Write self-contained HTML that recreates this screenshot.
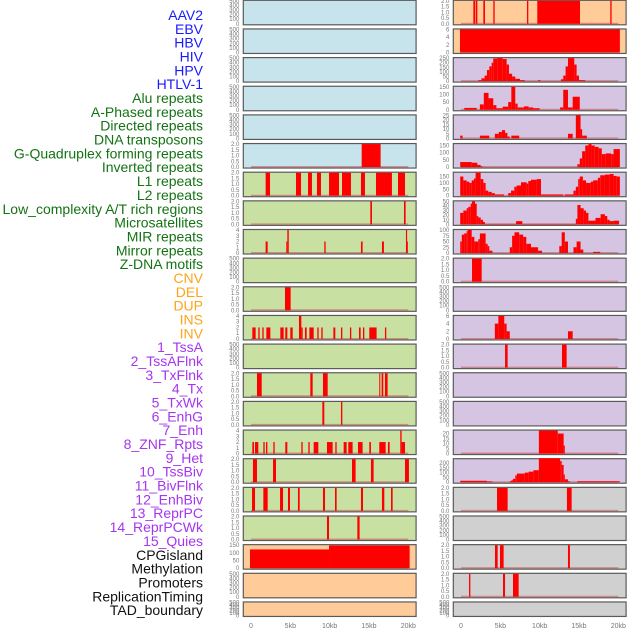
<!DOCTYPE html>
<html><head><meta charset="utf-8"><style>
html,body{margin:0;padding:0;background:#fff;}
svg{display:block;font-family:"Liberation Sans",sans-serif;}
</style></head><body>
<svg id="chart" width="630" height="630" viewBox="0 0 630 630" xmlns="http://www.w3.org/2000/svg"></svg>
<script>
const trackLabels = ["AAV2","EBV","HBV","HIV","HPV","HTLV-1","Alu repeats","A-Phased repeats","Directed repeats","DNA transposons","G-Quadruplex forming repeats","Inverted repeats","L1 repeats","L2 repeats","Low_complexity A/T rich regions","Microsatellites","MIR repeats","Mirror repeats","Z-DNA motifs","CNV","DEL","DUP","INS","INV","1_TssA","2_TssAFlnk","3_TxFlnk","4_Tx","5_TxWk","6_EnhG","7_Enh","8_ZNF_Rpts","9_Het","10_TssBiv","11_BivFlnk","12_EnhBiv","13_ReprPC","14_ReprPCWk","15_Quies","CPGisland","Methylation","Promoters","ReplicationTiming","TAD_boundary"];
const trackGroups = ["v","v","v","v","v","v","r","r","r","r","r","r","r","r","r","r","r","r","r","s","s","s","s","s","c","c","c","c","c","c","c","c","c","c","c","c","c","c","c","o","o","o","o","o"];
const xTickLabels = ["0","5kb","10kb","15kb","20kb"];
const xTickValues = [0,5,10,15,20];
const yMaxes = [500,500,500,500,500,2,2,2,4,500,2,4,500,2,2,4,2,2,2,150,500,500,
                2,6,250,150,25,160,180,50,100,2,500,6,2,500,500,23,240,2,500,2,2,500];
const yTicks = [
 [0,100,200,300,400,500],[0,100,200,300,400,500],[0,100,200,300,400,500],[0,100,200,300,400,500],[0,100,200,300,400,500],
 [0,0.5,1,1.5,2],[0,0.5,1,1.5,2],[0,0.5,1,1.5,2],[0,1,2,3,4],[0,100,200,300,400,500],[0,0.5,1,1.5,2],[0,1,2,3,4],
 [0,100,200,300,400,500],[0,0.5,1,1.5,2],[0,0.5,1,1.5,2],[0,1,2,3,4],[0,0.5,1,1.5,2],[0,0.5,1,1.5,2],[0,0.5,1,1.5,2],
 [0,50,100,150],[0,100,200,300,400,500],[0,100,200,300,400,500],
 [0,0.5,1,1.5,2],[0,2,4,6],[0,50,100,150,200,250],[0,50,100,150],[0,5,10,15,20,25],[0,50,100,150],[0,50,100,150],
 [0,10,20,30,40,50],[0,25,50,75,100],[0,0.5,1,1.5,2],[0,100,200,300,400,500],[0,2,4,6],[0,0.5,1,1.5,2],
 [0,100,200,300,400,500],[0,100,200,300,400,500],[0,5,10,15,20],[0,50,100,150,200],[0,0.5,1,1.5,2],
 [0,100,200,300,400,500],[0,0.5,1,1.5,2],[0,0.5,1,1.5,2],[0,100,200,300,400,500]];
// segments per panel: [startKb, endKb, value]
const segsL6 = [[14.07,16.48,2]];
const segsL7 = [[1.86,2.42,2],[5.72,6.36,2],[7.25,7.75,2],[8.39,8.9,2],[9.92,11.19,2],[11.57,12.71,2],[13.98,14.49,2],[15.89,17.92,2],[18.69,19.58,2]];
const segsL8 = [[15.17,15.38,2],[19.45,19.66,2]];
const segsL9 = [[1.86,2.12,2],[4.49,4.62,2],[4.62,4.8,4],[9.32,9.49,2],[13.98,14.19,2],[16.65,16.9,2],[19.7,19.85,4],[19.85,19.95,2]];
const segsL11 = [[4.32,5.04,2]];
const segsL12 = [[0.17,0.59,2],[0.93,1.1,2],[1.44,1.61,2],[1.95,2.46,2],[3.73,4.15,2],[4.36,4.62,2],[5.0,5.3,2],[6.1,6.4,4],[6.4,6.57,2],[6.86,7.08,2],[7.42,7.97,2],[8.43,8.6,2],[8.94,9.11,2],[10.47,10.72,2],[11.44,11.61,2],[12.58,12.75,2],[13.73,13.94,2],[14.24,14.41,2],[15.04,15.97,2],[17.03,17.2,2]];
const segsL14 = [[0.76,1.36,2],[7.54,7.84,2],[9.15,9.75,2],[16.31,16.44,2],[16.61,16.82,2],[17.03,17.37,2]];
const segsL15 = [[9.07,9.32,2],[11.44,11.61,2]];
const segsL16 = [[0.17,0.38,2],[0.51,0.93,2],[1.57,1.74,2],[1.91,2.08,2],[2.84,3.01,2],[4.36,4.62,2],[6.4,6.57,2],[7.29,7.46,2],[7.97,8.56,2],[9.66,10.38,2],[10.72,10.89,2],[11.78,12.16,2],[12.37,12.92,2],[13.6,14.19,2],[15.04,15.25,2],[16.31,17.12,2],[17.41,17.63,2],[18.98,19.15,4],[19.15,19.58,2]];
const segsL17 = [[0.25,0.76,2],[2.8,3.18,2],[12.84,13.3,2],[15.25,15.59,2],[19.58,20.08,2]];
const segsL18 = [[0.13,0.51,2],[1.57,2.12,2],[3.69,4.07,2],[4.7,4.96,2],[5.97,6.19,2],[9.15,9.41,2],[10.68,10.89,2],[13.98,14.24,2],[16.65,16.95,2],[17.8,18.01,2]];
const segsL19 = [[9.66,9.92,2],[13.52,13.81,2]];
const segsL20 = [[-0.13,9.92,122],[9.92,20.17,148]];
const segsR1 = [[1.57,1.78,2],[1.86,2.08,2],[2.84,3.05,2],[4.11,4.28,2],[8.39,8.56,2],[9.7,15.13,2],[18.98,19.15,2]];
const segsR2 = [[-0.13,20.2,6]];
const segsR3 = [[2.2,2.6,10],[2.6,3.0,30],[3.0,3.3,60],[3.3,3.6,120],[3.6,3.9,160],[3.9,4.1,200],[4.1,4.6,245],[4.6,5.3,250],[5.3,5.8,240],[5.8,6.1,180],[6.1,6.5,80],[6.5,6.9,50],[6.9,7.5,25],[7.5,8.1,10],[9.8,10.1,10],[12.7,13.0,20],[13.0,13.3,60],[13.3,13.6,160],[13.6,14.4,250],[14.4,14.7,180],[14.7,15.0,60],[15.0,15.8,10]];
const segsR4 = [[0.42,2.0,12],[2.4,2.9,35],[2.9,3.5,110],[3.5,4.1,75],[4.1,4.5,30],[4.5,5.3,10],[5.3,6.0,20],[6.0,6.4,50],[6.4,6.9,150],[6.9,7.2,40],[7.2,8.0,15],[8.0,8.6,22],[8.6,9.2,15],[9.2,10.0,10],[12.6,13.0,15],[13.0,13.6,130],[13.6,14.2,15],[14.2,15.1,85]];
const segsR5 = [[-0.1,0.2,3],[2.4,3.6,3],[4.3,4.8,5],[4.8,5.2,7],[5.2,5.6,9],[5.6,5.9,6],[5.9,6.2,2],[6.4,7.4,3],[13.6,14.2,5],[14.6,15.2,25],[15.2,15.4,10],[15.4,16.0,3]];
const segsR6 = [[-0.1,1.36,35],[1.36,2.08,30],[2.08,2.5,15],[2.5,2.75,5],[14.8,15.1,20],[15.1,15.4,60],[15.4,15.8,110],[15.8,16.2,150],[16.2,16.6,160],[16.6,17.0,150],[17.0,17.5,140],[17.5,17.9,130],[17.9,18.4,90],[18.4,19.1,95],[19.1,19.4,90],[19.4,20.2,125]];
const segsR7 = [[-0.1,0.3,150],[0.3,0.72,120],[0.72,1.06,110],[1.06,1.36,100],[1.36,1.65,120],[1.65,1.86,135],[1.86,2.5,180],[2.5,2.84,130],[2.84,3.13,100],[3.13,3.47,40],[3.47,3.9,30],[3.9,4.3,20],[4.3,5.47,10],[6.0,6.36,20],[6.36,6.78,40],[6.78,7.08,70],[7.08,7.63,80],[7.63,8.35,105],[8.35,8.56,95],[8.56,8.9,115],[8.9,9.62,125],[9.62,10.17,130],[10.17,13.0,10],[13.2,14.3,10],[14.3,14.6,40],[14.6,14.9,70],[14.9,15.1,130],[15.1,15.5,150],[15.5,15.9,120],[15.9,16.5,100],[16.5,16.8,110],[16.8,17.4,120],[17.4,17.7,140],[17.7,18.3,160],[18.3,18.9,165],[18.9,19.4,170],[19.4,19.8,155],[19.8,20.2,150]];
const segsR8 = [[-0.1,0.3,25],[0.3,0.72,30],[0.72,0.93,35],[0.93,1.23,38],[1.23,1.4,45],[1.4,1.78,50],[1.78,2.0,45],[2.0,2.2,18],[2.2,2.5,15],[2.5,2.8,10],[2.8,3.05,5],[3.05,7.0,1],[7.0,7.8,7],[7.8,14.6,1],[14.6,14.8,12],[14.8,15.2,42],[15.2,15.6,35],[15.6,15.9,30],[15.9,16.2,25],[16.2,17.1,8],[17.1,17.75,14],[17.75,18.3,22],[18.3,18.6,18],[18.6,18.9,10],[18.9,19.4,7],[19.4,20.1,8]];
const segsR9 = [[-0.1,0.1,50],[0.1,0.4,80],[0.4,0.72,85],[0.72,0.85,95],[0.85,1.36,100],[1.36,1.7,70],[1.7,2.2,50],[2.2,2.4,60],[2.4,3.13,85],[3.13,3.39,40],[3.39,3.6,30],[3.6,4.0,10],[6.2,6.5,25],[6.5,6.8,75],[6.8,7.4,90],[7.4,7.9,80],[7.9,8.3,70],[8.3,8.9,40],[8.9,9.8,25],[9.8,10.3,10],[12.5,12.8,30],[12.8,13.2,90],[13.2,13.6,50],[14.3,14.7,25],[14.7,15.2,50],[15.2,15.55,15],[16.8,17.7,5]];
const segsR10 = [[1.4,2.63,2]];
const segsR12 = [[4.3,4.75,4],[4.75,5.5,6],[5.5,5.8,4],[5.8,6.2,2],[13.6,14.2,2]];
const segsR13 = [[5.6,5.93,2],[12.84,13.43,2]];
const segsR16 = [[9.9,12.3,23],[12.3,13.05,20],[13.05,13.2,8]];
const segsR17 = [[-0.1,3.3,15],[3.3,4.0,8],[6.2,6.4,10],[6.4,6.6,20],[6.6,6.9,35],[6.9,7.1,70],[7.1,8.1,90],[8.1,8.6,100],[8.6,9.2,110],[9.2,9.9,125],[9.9,12.6,250],[12.6,12.8,220],[12.8,13.05,180],[13.05,13.2,80],[13.2,13.6,30],[13.6,13.8,10],[14.8,20.2,10]];
const segsR18 = [[4.58,5.93,2],[13.47,14.07,2]];
const segsR20 = [[4.32,4.66,2],[4.96,5.42,2],[13.6,13.85,2]];
const segsR21 = [[1.02,1.19,2],[5.34,5.6,2],[6.61,7.33,2]];
const panelSegs = [null,null,null,null,null,segsL6,segsL7,segsL8,segsL9,null,segsL11,segsL12,null,segsL14,segsL15,segsL16,segsL17,segsL18,segsL19,segsL20,null,null,
  segsR1,segsR2,segsR3,segsR4,segsR5,segsR6,segsR7,segsR8,segsR9,segsR10,null,segsR12,segsR13,null,null,segsR16,segsR17,segsR18,null,segsR20,segsR21,null];

const NS = "http://www.w3.org/2000/svg";
const svg = document.getElementById("chart");
const bgColors = {v:"#c7e3eb",r:"#c8e1a3",s:"#ffcc99",c:"#d6c5e2",o:"#d0d0d0"};
const txtColors = {v:"#1a1aff",r:"#137313",s:"#ffa31a",c:"#a535ef",o:"#111111"};
function mk(tag, attrs, parent){const e=document.createElementNS(NS,tag);for(const k in attrs)e.setAttribute(k,attrs[k]);(parent||svg).appendChild(e);return e;}
function fmt(v, ticks){return ticks.some(t=>t%1!==0)?v.toFixed(1):String(v);}

// labels
trackLabels.forEach((lab,i)=>{
  const t=mk("text",{x:203,y:20+i*13.84,"text-anchor":"end","font-size":"14",fill:txtColors[trackGroups[i]]});
  t.textContent=lab;
  
  
});

for(let i=0;i<44;i++){
  const col = i<22?0:1, row=i%22;
  const px = col===0?243.3:453.3, pw = 172.8;
  const top = 0.3+row*28.65, h = row===21?14.5:24.5;
  const x0 = col===0?251:461, kbScale=(408.3-251)/20;
  const xs = kb=>x0+kb*kbScale;
  const base = top+h-1, ymax=yMaxes[i];
  const ys = v=>base-(v/ymax)*(h-1.5);
  const g=mk("g",{});
  
  
  mk("rect",{x:px,y:top,width:pw,height:h,fill:bgColors[trackGroups[i]],stroke:"#5a5a5a","stroke-width":1.2},g);
  // y ticks
  yTicks[i].forEach(tv=>{
    const t=mk("text",{x:px-4,y:ys(tv)+2,"text-anchor":"end","font-size":"6",fill:"#777"},g);
    t.textContent=fmt(tv,yTicks[i]);
    
    
  });
  const segs=panelSegs[i];
  if(segs){
    mk("line",{x1:xs(0),x2:xs(20),y1:base-0.3,y2:base-0.3,stroke:"rgba(200,80,80,0.55)","stroke-width":1.4},g);
    segs.forEach(s=>{
      const r=mk("rect",{x:xs(s[0]),y:ys(s[2]),width:Math.max(0.8,xs(s[1])-xs(s[0])),height:base-ys(s[2]),fill:"#ff0000"},g);
      
      
    });
  }
}
// x axes
[0,1].forEach(col=>{
  const x0=col===0?251:461, kbScale=(408.3-251)/20;
  xTickValues.forEach((v,j)=>{
    const t=mk("text",{x:x0+v*kbScale,y:628,"text-anchor":"middle","font-size":"7",fill:"#777"});
    t.textContent=xTickLabels[j];
    
    
  });
});
</script>
</body></html>
